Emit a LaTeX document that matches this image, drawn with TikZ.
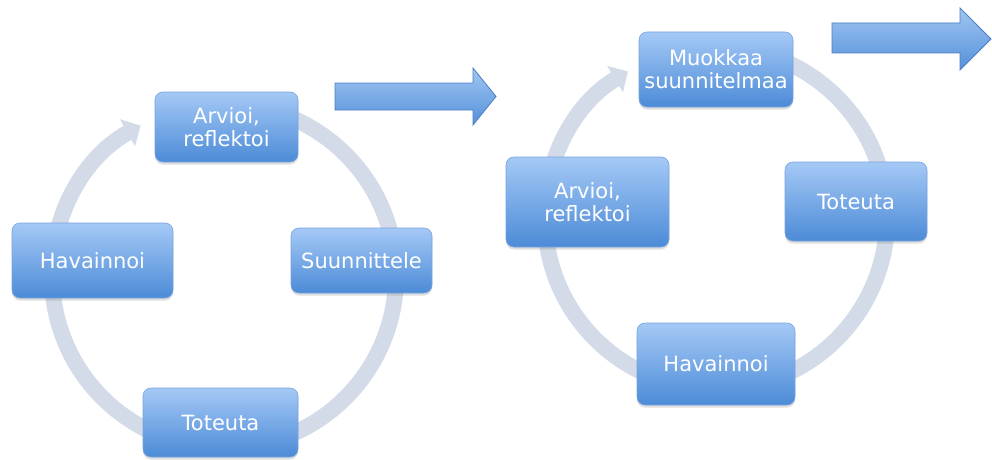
\documentclass[tikz,border=0pt]{standalone}
\usepackage{fontspec}
\setmainfont{DejaVu Sans}
\usetikzlibrary{arrows.meta,shadows}
\definecolor{ringc}{RGB}{212,219,232}
\definecolor{boxtop}{RGB}{165,201,246}
\definecolor{boxbot}{RGB}{76,139,215}
\definecolor{boxedge}{RGB}{120,163,222}
\definecolor{arrtop}{RGB}{160,198,242}
\definecolor{arrbot}{RGB}{84,144,218}
\definecolor{arredge}{RGB}{78,126,196}
\tikzset{
  cyclebox/.style={rectangle, rounded corners=8pt, top color=boxtop, bottom color=boxbot,
    draw=boxedge, line width=0.6pt, text=white, font=\fontsize{21}{23}\selectfont,
    align=center, inner sep=0pt,
    drop shadow={opacity=0.25, shadow xshift=0pt, shadow yshift=-2.5pt}},
  ringline/.style={draw=ringc, line width=16pt},
  ringarrow/.style={ringline, -{Triangle[width=30pt,length=15pt]}},
  blockarrow/.style={top color=arrtop, bottom color=arrbot, draw=arredge, line width=0.8pt, line join=miter}
}
\begin{document}
\begin{tikzpicture}[x=1pt,y=1pt]
\useasboundingbox (0,0) rectangle (992,459);
\fill[white] (0,0) rectangle (992,459);

% left cycle
\coordinate (c1) at (224,183);
\draw[ringarrow] (c1) ++(100:172) arc[start angle=100, end angle=-241, radius=172];
\node[cyclebox, minimum width=143pt, minimum height=70pt] (a1) at (226.5,332) {Arvioi,\\reflektoi};
\node[cyclebox, minimum width=161pt, minimum height=75pt] (h1) at (92.5,198.5) {Havainnoi};
\node[cyclebox, minimum width=141pt, minimum height=65pt] (s1) at (361.5,198.5) {Suunnittele};
\node[cyclebox, minimum width=155pt, minimum height=69pt] (t1) at (220.5,36.5) {Toteuta};

% middle arrow
\path[blockarrow] (335,349) -- (473,349) -- (473,334) -- (496,362.5) -- (473,391) -- (473,376) -- (335,376) -- cycle;

% right cycle
\coordinate (c2) at (716,241);
\draw[ringarrow] (c2) ++(100:171) arc[start angle=100, end angle=-239, radius=171];
\node[cyclebox, minimum width=154pt, minimum height=75pt] (m2) at (716,389.5) {Muokkaa\\suunnitelmaa};
\node[cyclebox, minimum width=163pt, minimum height=90pt] (a2) at (587.5,257) {Arvioi,\\reflektoi};
\node[cyclebox, minimum width=142pt, minimum height=79pt] (t2) at (856,257.5) {Toteuta};
\node[cyclebox, minimum width=158pt, minimum height=82pt] (h2) at (716,95) {Havainnoi};

% right arrow
\path[blockarrow] (832,406) -- (960,406) -- (960,389) -- (991,420) -- (960,451) -- (960,436) -- (832,436) -- cycle;
\end{tikzpicture}
\end{document}
